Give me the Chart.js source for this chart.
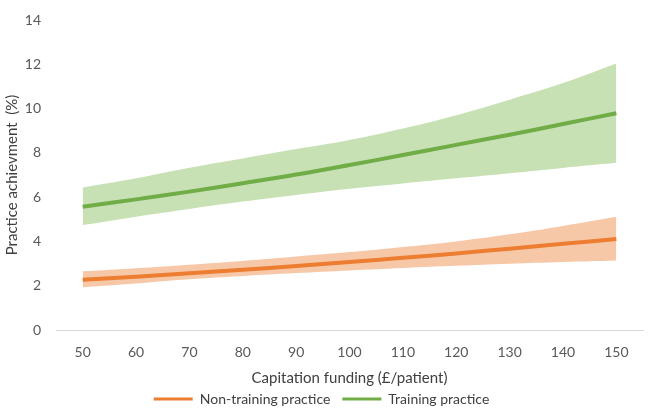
<!DOCTYPE html>
<html>
<head>
<meta charset="utf-8">
<script src="https://cdn.jsdelivr.net/npm/chart.js@4/dist/chart.umd.min.js"></script>
<style>
html,body{margin:0;padding:0;background:#fff;}
#wrap{width:661px;height:412px;}
</style>
</head>
<body>
<div id="wrap"><canvas id="c" width="661" height="412"></canvas></div>
<script>
const xValues = [50, 60, 70, 80, 90, 100, 110, 120, 130, 140, 150];
const xTicks = [50, 60, 70, 80, 90, 100, 110, 120, 130, 140, 150];
const yTicks = [0, 2, 4, 6, 8, 10, 12, 14];
const seriesNames = ["Non-training practice", "Training practice"];

const orangeMid   = [2.27, 2.41, 2.56, 2.72, 2.89, 3.07, 3.26, 3.46, 3.67, 3.89, 4.11];
const orangeUpper = [2.65, 2.79, 2.95, 3.12, 3.32, 3.52, 3.75, 4.00, 4.32, 4.70, 5.11];
const orangeLower = [1.93, 2.10, 2.29, 2.44, 2.57, 2.69, 2.80, 2.90, 2.99, 3.07, 3.14];

const greenMid    = [5.57, 5.90, 6.25, 6.63, 7.02, 7.45, 7.90, 8.36, 8.82, 9.30, 9.79];
const greenUpper  = [6.43, 6.85, 7.33, 7.75, 8.17, 8.58, 9.10, 9.70, 10.40, 11.15, 12.03];
const greenLower  = [4.74, 5.12, 5.47, 5.80, 6.10, 6.38, 6.62, 6.85, 7.08, 7.32, 7.55];

const pts = arr => arr.map((y, i) => ({x: xValues[i], y}));
const FONT = "Lato, 'Open Sans', sans-serif";
const ORANGE = '#ED7D31', GREEN = '#70AD47';

new Chart(document.getElementById('c'), {
  type: 'line',
  data: {
    datasets: [
      {label: seriesNames[0], data: pts(orangeMid), borderColor: ORANGE, backgroundColor: ORANGE, borderWidth: 4, pointRadius: 0, tension: 0.4, fill: false, order: 0},
      {label: seriesNames[1], data: pts(greenMid), borderColor: GREEN, backgroundColor: GREEN, borderWidth: 4, pointRadius: 0, tension: 0.4, fill: false, order: 0},
      {label: 'oU', data: pts(orangeUpper), borderWidth: 0, borderColor: 'rgba(0,0,0,0)', pointRadius: 0, tension: 0.4, fill: 3, backgroundColor: 'rgba(244,177,131,0.7)', order: 1},
      {label: 'oL', data: pts(orangeLower), borderWidth: 0, borderColor: 'rgba(0,0,0,0)', pointRadius: 0, tension: 0.4, fill: false, order: 1},
      {label: 'gU', data: pts(greenUpper), borderWidth: 0, borderColor: 'rgba(0,0,0,0)', pointRadius: 0, tension: 0.4, fill: 5, backgroundColor: 'rgba(169,209,142,0.65)', order: 1},
      {label: 'gL', data: pts(greenLower), borderWidth: 0, borderColor: 'rgba(0,0,0,0)', pointRadius: 0, tension: 0.4, fill: false, order: 1}
    ]
  },
  options: {
    responsive: false,
    animation: false,
    layout: {padding: {top: 20, right: 18, left: 0, bottom: -4}},
    plugins: {
      tooltip: {enabled: false},
      legend: {
        position: 'bottom',
        labels: {
          generateLabels: chart => Chart.defaults.plugins.legend.labels.generateLabels(chart)
            .filter(it => it.datasetIndex < 2)
            .map(it => Object.assign(it, {lineWidth: 0})),
          boxWidth: 39, boxHeight: 3,
          color: '#404040',
          padding: 12,
          font: {family: FONT, size: 14}
        }
      }
    },
    scales: {
      x: {
        type: 'linear', min: 45, max: 155,
        afterBuildTicks: axis => { axis.ticks = xTicks.map(v => ({value: v})); },
        afterFit: scale => { scale.height = 50; },
        grid: {display: false, drawTicks: false},
        border: {display: true, color: '#D9D9D9', width: 1},
        ticks: {color: '#595959', font: {family: FONT, size: 14}, padding: 14, autoSkip: false, maxRotation: 0},
        title: {display: true, text: 'Capitation funding (£/patient)', color: '#404040', font: {family: FONT, size: 15}, padding: {top: 0, bottom: -7}}
      },
      y: {
        min: 0, max: 14,
        afterBuildTicks: axis => { axis.ticks = yTicks.map(v => ({value: v})); },
        afterFit: scale => { scale.width = 56; scale.paddingTop = 0; },
        grid: {display: false, drawTicks: false},
        border: {display: false},
        ticks: {color: '#595959', font: {family: FONT, size: 14}, padding: 15},
        title: {display: true, text: 'Practice achievment  (%)', color: '#404040', font: {family: FONT, size: 15}, padding: {top: 3, bottom: 0}}
      }
    }
  }
});
</script>
</body>
</html>
